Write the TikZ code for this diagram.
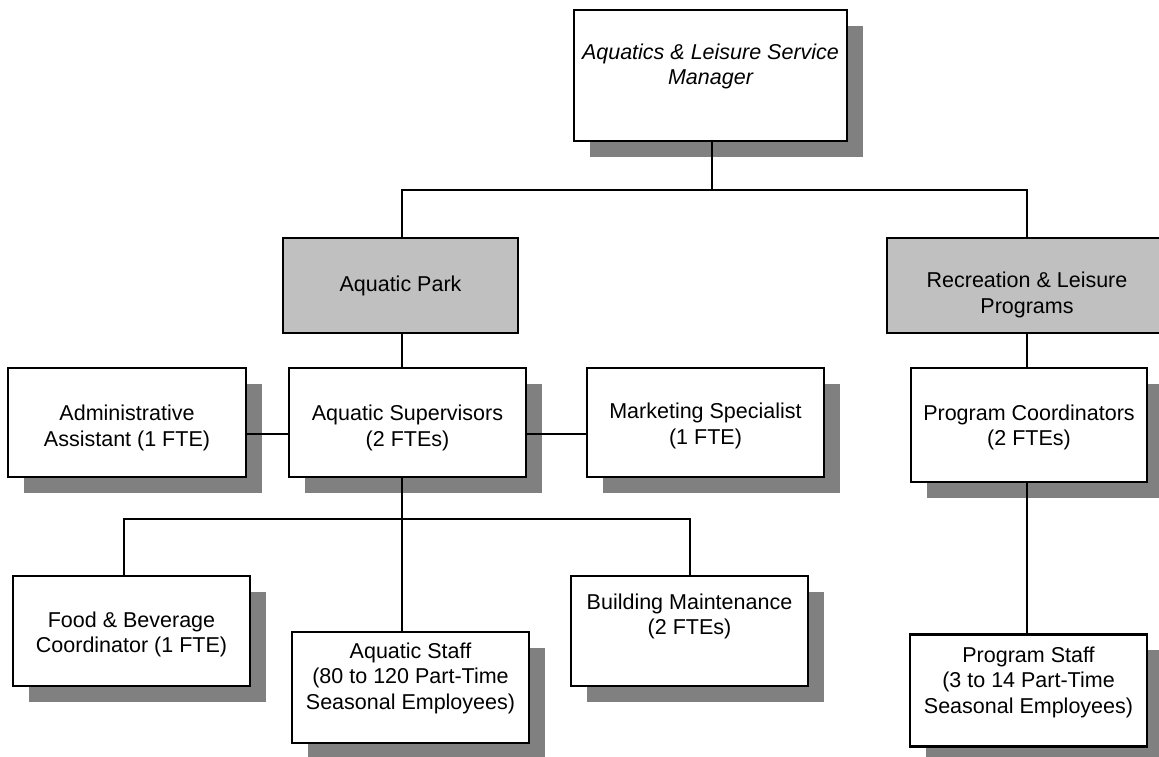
\documentclass[tikz,border=0pt]{standalone}
\usepackage{fontspec}
\setmainfont{Liberation Sans}
\usetikzlibrary{shadows}
\definecolor{boxgray}{HTML}{C0C0C0}
\definecolor{shadowgray}{HTML}{808080}
\newcommand\toppad[1]{\rule{0pt}{#1}}
\begin{document}
\begin{tikzpicture}[x=1pt,y=-1pt,
  txt/.style={font=\fontsize{21.5}{25.5}\selectfont},
  orgbox/.style={txt, draw=black, line width=2.4pt, fill=white, align=center, inner sep=0pt,
    general shadow={shadow xshift=16pt, shadow yshift=-16pt, fill=shadowgray}},
  unitbox/.style={txt, draw=black, line width=2.4pt, fill=boxgray, align=center, inner sep=0pt},
  link/.style={line width=1.8pt}]
\clip (0,0) rectangle (1159,757);
\fill[white] (0,0) rectangle (1159,757);

% nodes
\node[orgbox, minimum width=273pt, minimum height=131pt,
  font=\fontsize{21.5}{25.5}\selectfont\itshape] (mgr) at (710.5,75.5)
  {\toppad{26pt}Aquatics \& Leisure Service\\Manager\\\strut};
\node[unitbox, minimum width=235pt, minimum height=95pt] (park) at (400.5,285.5) {Aquatic Park};
\node[unitbox, minimum width=280pt, minimum height=95pt] (rec) at (1027,285.5) {\toppad{34pt}Recreation \& Leisure\\Programs};

\node[orgbox, minimum width=238pt, minimum height=109pt] (admin) at (127,422.5) {\toppad{26pt}Administrative\\Assistant (1 FTE)};
\node[orgbox, minimum width=237pt, minimum height=109pt] (sup) at (407.5,422.5) {\toppad{26pt}Aquatic Supervisors\\(2 FTEs)};
\node[orgbox, minimum width=237pt, minimum height=109pt] (mkt) at (705.5,422.5) {\toppad{22pt}Marketing Specialist\\(1 FTE)};
\node[orgbox, minimum width=236pt, minimum height=114pt] (pcoord) at (1029,425) {\toppad{20pt}Program Coordinators\\(2 FTEs)};

\node[orgbox, minimum width=237pt, minimum height=110pt] (food) at (131.5,631) {\toppad{22pt}Food \& Beverage\\Coordinator (1 FTE)};
\node[orgbox, minimum width=237pt, minimum height=111pt] (staff) at (410.5,687.5) {\toppad{26pt}Aquatic Staff\\(80 to 120 Part-Time\\Seasonal Employees)\\\strut};
\node[orgbox, minimum width=237pt, minimum height=110pt] (bldg) at (689.5,631) {Building Maintenance\\(2 FTEs)\\\strut};
\node[orgbox, minimum width=237pt, minimum height=111pt] (pstaff) at (1028.5,690.5) {\toppad{28pt}Program Staff\\(3 to 14 Part-Time\\Seasonal Employees)\\\strut};

% connector coordinates
\coordinate (bus1) at (712,190);
\coordinate (trunkA) at (402,190);
\coordinate (trunkB) at (402,519);
\coordinate (fx) at (124,519);
\coordinate (bx) at (690,519);
\coordinate (rx) at (1027,190);

% connectors
\draw[link] (mgr.south -| bus1) -- (bus1);
\draw[link] (park.north -| trunkA) -- (trunkA) -- (rx) -- (rec.north -| rx);
\draw[link] (park.south -| trunkA) -- (sup.north -| trunkA);
\draw[link] ([yshift=-11.5pt]admin.east) -- ([yshift=-11.5pt]sup.west);
\draw[link] ([yshift=-11.5pt]sup.east) -- ([yshift=-11.5pt]mkt.west);
\draw[link] (rec.south -| rx) -- (pcoord.north -| rx);
\draw[link] (pcoord.south -| rx) -- (pstaff.north -| rx);
\draw[link] (sup.south -| trunkB) -- (staff.north -| trunkB);
\draw[link] (food.north -| fx) -- (fx) -- (bx) -- (bldg.north -| bx);
\end{tikzpicture}
\end{document}
